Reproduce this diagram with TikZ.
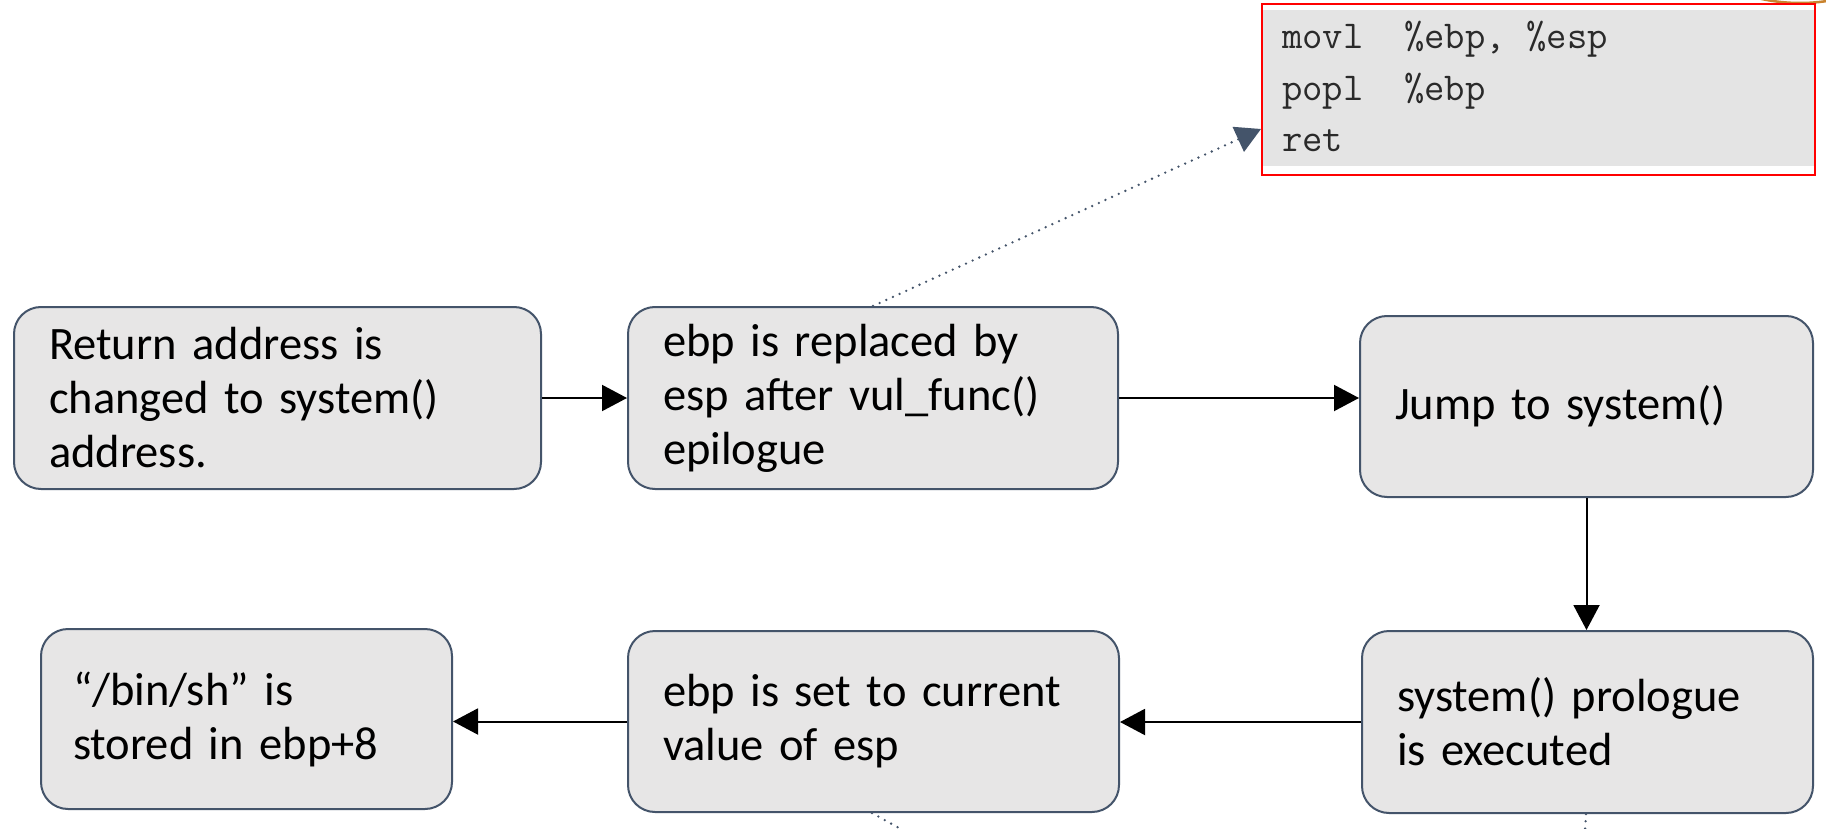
\documentclass[tikz,border=0pt]{standalone}
\usepackage{fontspec}
\newfontfamily\carlito{Carlito}
\usetikzlibrary{arrows.meta,calc}
\definecolor{slate}{HTML}{44546A}
\definecolor{boxgray}{HTML}{E7E6E6}
\definecolor{codegray}{HTML}{E4E4E4}
\definecolor{codetext}{HTML}{2A2A2A}
\definecolor{arcorange}{HTML}{C9832E}
\begin{document}
\begin{tikzpicture}[x=1pt,y=-1pt,
  stepbox/.style={draw=slate, fill=boxgray, line width=2pt, rounded corners=27pt,
    align=left, inner sep=0pt,
    font=\carlito\fontsize{46.5}{54}\selectfont},
  flow/.style={draw=black, line width=2pt, -{Triangle[length=25pt,width=26pt]}},
  dotline/.style={draw=slate, line width=2.6pt, line cap=round, dash pattern=on 0pt off 7.3pt},
  dotarrow/.style={dotline, -{Triangle[length=25pt,width=27pt,fill=slate]}}
]
\useasboundingbox (0,0) rectangle (1826,829);
\fill[white] (0,0) rectangle (1826,829);

% orange arc fragment at top right
\draw[arcorange, line width=2.5pt] (1800,-180) circle[radius=183];

% code box
\node[draw=red, line width=2pt, fill=white, minimum width=553pt, minimum height=171pt, inner sep=0pt]
  (code) at (1538.5,89.5) {};
\fill[codegray] (1263,10) rectangle (1814,166);
\node[anchor=north west, inner sep=0pt, align=left, text=codetext,
  font=\ttfamily\fontsize{39.5}{51.5}\selectfont] (codetxt) at (1282,21)
  {movl\ \ \%ebp, \%esp\\popl\ \ \%ebp\\ret};
\coordinate (codein) at ($(code.south west)+(0,-47)$);

% step boxes
\node[stepbox, minimum width=527pt, minimum height=182pt, text width=457pt] (b1) at (277.5,398)
  {Return address is\\changed to system()\\address.};
\node[stepbox, minimum width=490pt, minimum height=182pt, text width=420pt] (b2) at (873,398)
  {ebp is replaced by\\esp after vul\_func()\\epilogue};
\node[stepbox, minimum width=453pt, minimum height=181pt, text width=383pt] (b3) at (1586.5,406.5)
  {Jump to system()};
\node[stepbox, minimum width=451pt, minimum height=182pt, text width=381pt] (b4) at (1587.5,722)
  {system() prologue\\is executed};
\node[stepbox, minimum width=491pt, minimum height=181pt, text width=421pt] (b5) at (873.5,721.5)
  {ebp is set to current\\value of esp};
\node[stepbox, minimum width=411pt, minimum height=180pt, text width=347pt] (b6) at (246.5,719)
  {“/bin/sh” is\\stored in ebp+8};

% connectors
\draw[flow] (b1.east) -- (b2.west);
\draw[flow] (b2.east) -- (b2.east -| b3.west);
\draw[flow] (b3.south) -- (b3.south |- b4.north);
\draw[flow] (b4.west) -- (b4.west -| b5.east);
\draw[flow] (b5.west) -- (b5.west -| b6.east);

% dotted connectors
\coordinate (b2top) at ($(b2.north west)+(246,0)$);
\draw[dotarrow] (b2top) -- (codein);
\coordinate (b5bot) at ($(b5.south west)+(245,0)$);
\coordinate (b5far) at ($(b5bot)+(45,25)$);
\draw[dotline] (b5bot) -- (b5far);
\coordinate (b4bot) at ($(b4.south west)+(225,0)$);
\coordinate (b4far) at ($(b4bot)+(-2,35)$);
\draw[dotline] (b4bot) -- (b4far);
\end{tikzpicture}
\end{document}
